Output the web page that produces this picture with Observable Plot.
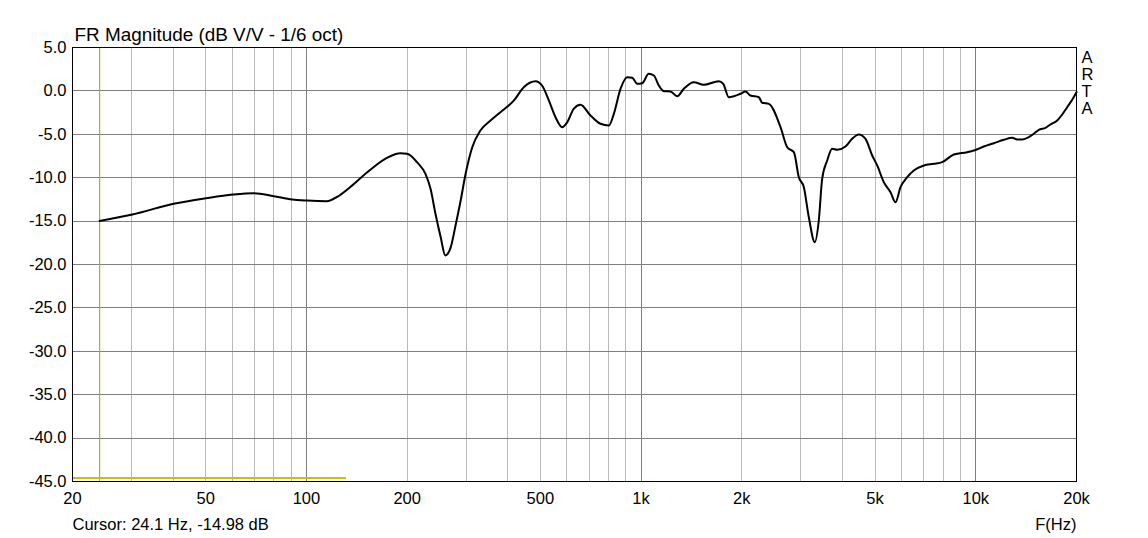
<!DOCTYPE html>
<html>
<head>
<meta charset="utf-8">
<script src="https://cdn.jsdelivr.net/npm/d3@7"></script>
<script src="https://cdn.jsdelivr.net/npm/@observablehq/plot@0.6"></script>
<style>
  html, body { margin: 0; padding: 0; background: #fff; }
  #chart svg { display: block; }
</style>
</head>
<body>
<div id="chart"></div>
<script>
// Frequency response (Hz, dB V/V, 1/6 oct smoothing)
const freqHz = [24.1, 30.2, 40.1, 50.2, 60.3, 69.6, 79.9, 90.7, 100.5, 115, 124, 135, 152, 174, 191, 200, 214, 227, 235, 243, 252, 260, 270, 279, 289, 299, 313, 331, 355, 380, 417, 446, 484, 506, 530, 555, 581, 602, 629, 659, 706, 756, 801, 829, 868, 909, 941, 974, 1008, 1054, 1092, 1130, 1169, 1224, 1282, 1342, 1437, 1539, 1707, 1760, 1828, 1982, 2051, 2122, 2248, 2301, 2408, 2610, 2733, 2861, 2960, 3064, 3171, 3304, 3396, 3476, 3598, 3724, 3854, 4079, 4272, 4472, 4683, 4904, 5076, 5313, 5563, 5758, 5959, 6239, 6529, 6996, 7493, 7938, 8598, 9428, 9868, 10568, 11324, 12130, 12850, 13302, 13768, 14408, 14912, 15434, 16158, 16724, 17514, 18128, 18760, 19416, 20000];
const magDb = [-14.98, -14.24, -13.0, -12.36, -11.94, -11.78, -12.13, -12.51, -12.63, -12.7, -12.17, -11.09, -9.37, -7.71, -7.18, -7.25, -8.21, -9.6, -11.3, -14.16, -16.9, -18.96, -18.0, -15.5, -12.63, -9.55, -6.49, -4.56, -3.41, -2.45, -1.1, 0.43, 1.12, 0.62, -1.1, -3.03, -4.18, -3.6, -2.06, -1.6, -2.83, -3.79, -3.99, -2.64, 0.24, 1.58, 1.51, 0.82, 0.89, 1.97, 1.77, 0.62, -0.03, -0.07, -0.61, 0.24, 1.0, 0.7, 1.12, 0.82, -0.73, -0.33, -0.07, -0.53, -0.73, -1.37, -1.49, -4.18, -6.49, -7.06, -9.94, -11.09, -14.55, -17.43, -14.93, -10.13, -8.02, -6.67, -6.79, -6.41, -5.52, -5.02, -5.52, -7.44, -8.59, -10.52, -11.67, -12.82, -11.09, -9.94, -9.17, -8.59, -8.4, -8.21, -7.33, -7.06, -6.87, -6.41, -6.03, -5.63, -5.4, -5.6, -5.6, -5.33, -4.94, -4.48, -4.25, -3.87, -3.41, -2.72, -1.88, -1.03, -0.15];

const xTickValues = [20, 50, 100, 200, 500, 1000, 2000, 5000, 10000, 20000];
const xTickLabels = ["20", "50", "100", "200", "500", "1k", "2k", "5k", "10k", "20k"];
const yTickValues = [5, 0, -5, -10, -15, -20, -25, -30, -35, -40, -45];
const xMinorGrid = [30, 40, 50, 60, 70, 80, 90, 200, 300, 400, 500, 600, 700, 800, 900, 2000, 3000, 4000, 5000, 6000, 7000, 8000, 9000];
const xMajorGrid = [100, 1000, 10000];
const yGrid = [0, -5, -10, -15, -20, -25, -30, -35, -40];

const cursorHz = [24.1];
const markerLevel = [-44.65];
const markerRange = [20, 132];

const titleText = ["FR Magnitude (dB V/V - 1/6 oct)"];
const cursorText = ["Cursor: 24.1 Hz, -14.98 dB"];
const axisText = ["F(Hz)"];
const brandText = ["A\nR\nT\nA"];

const data = freqHz.map((f, i) => ({f, db: magDb[i]}));
const xTicks = xTickValues.map((v, i) => ({v, label: xTickLabels[i]}));

const font = "'Liberation Sans', Arial, sans-serif";
const crisp = {shapeRendering: "crispEdges"};

const chart = Plot.plot({
  width: 1148,
  height: 538,
  marginLeft: 72,
  marginRight: 72,
  marginTop: 47,
  marginBottom: 57,
  style: {fontFamily: font, fontSize: "16.5px", color: "#000", background: "#fff"},
  x: {type: "log", domain: [20, 20000], axis: null},
  y: {domain: [-45, 5], axis: null},
  marks: [
    Plot.ruleX(xMinorGrid, {stroke: "#b9b9b9", strokeWidth: 1, ...crisp}),
    Plot.ruleX(xMajorGrid, {stroke: "#808080", strokeWidth: 1, ...crisp}),
    Plot.ruleY(yGrid, {stroke: "#808080", strokeWidth: 1, ...crisp}),
    Plot.ruleX(cursorHz, {stroke: "#b4b400", strokeWidth: 1.2}),
    Plot.ruleY(markerLevel, {x1: markerRange[0], x2: markerRange[1], stroke: "#c4c400", strokeWidth: 2, ...crisp}),
    Plot.line(data, {x: "f", y: "db", stroke: "#000", strokeWidth: 2, curve: "monotone-x"}),
    Plot.frame({stroke: "#000", strokeWidth: 1, ...crisp}),
    Plot.text(yTickValues, {y: d => d, text: d => d.toFixed(1), frameAnchor: "left", textAnchor: "end", dx: -6, fontSize: 16.5}),
    Plot.text(xTicks, {x: "v", text: "label", frameAnchor: "bottom", textAnchor: "middle", lineAnchor: "top", dy: 11, fontSize: 16.5}),
    Plot.text(titleText, {frameAnchor: "top-left", textAnchor: "start", lineAnchor: "bottom", dx: 2, dy: -7, fontSize: 18.9}),
    Plot.text(cursorText, {frameAnchor: "bottom-left", textAnchor: "start", lineAnchor: "bottom", dx: 0, dy: 48, fontSize: 16.5}),
    Plot.text(axisText, {frameAnchor: "bottom-right", textAnchor: "end", lineAnchor: "bottom", dx: 0, dy: 48, fontSize: 16.5}),
    Plot.text(brandText, {frameAnchor: "top-right", textAnchor: "start", lineAnchor: "top", dx: 5, dy: 3, fontSize: 16.5, lineHeight: 1.03})
  ]
});
document.getElementById("chart").appendChild(chart);
</script>
</body>
</html>
